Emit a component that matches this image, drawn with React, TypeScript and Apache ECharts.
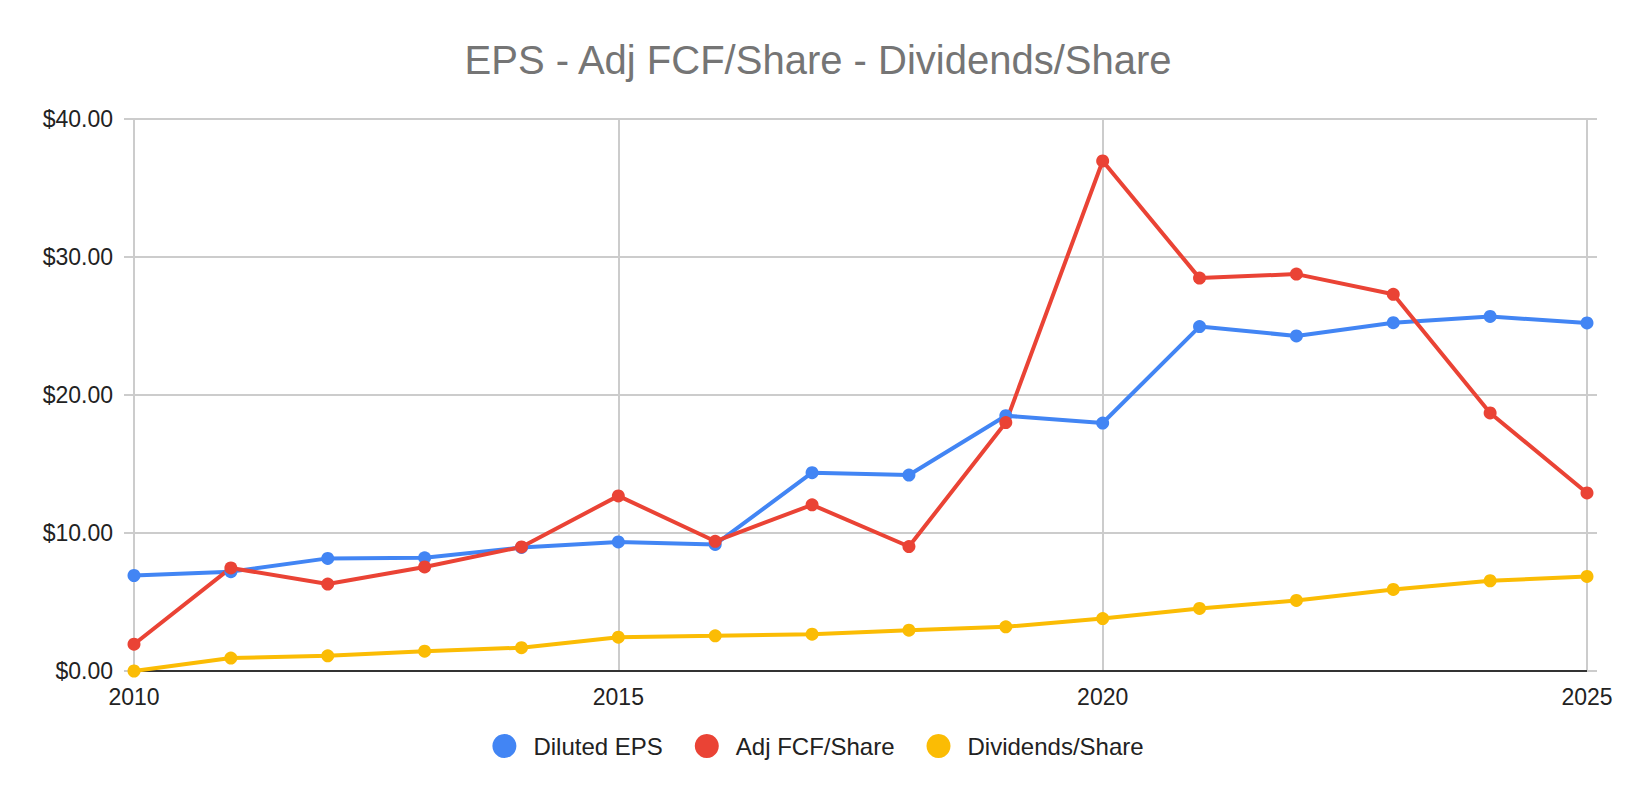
import { useEffect, useRef } from 'react';
import * as echarts from 'echarts';

const years = [2010, 2011, 2012, 2013, 2014, 2015, 2016, 2017, 2018, 2019, 2020, 2021, 2022, 2023, 2024, 2025];
const dilutedEps = [6.92, 7.2, 8.16, 8.2, 8.95, 9.35, 9.17, 14.37, 14.2, 18.5, 17.97, 24.96, 24.28, 25.24, 25.69, 25.22];
const adjFcfShare = [1.94, 7.47, 6.3, 7.54, 8.99, 12.69, 9.4, 12.04, 9.02, 18.0, 36.96, 28.47, 28.76, 27.3, 18.7, 12.9];
const dividendsShare = [0, 0.94, 1.1, 1.44, 1.69, 2.45, 2.55, 2.67, 2.96, 3.2, 3.8, 4.53, 5.11, 5.91, 6.54, 6.85];

const FONT = '"Liberation Sans", Arial, sans-serif';
const GRID_COLOR = '#cccccc';

function App() {
  const divEL = useRef<HTMLDivElement>(null);

  useEffect(() => {
    const instance = echarts.init(divEL.current as any, null, { renderer: 'svg' });

    const pairs = (vals: number[]) => years.map((y, i) => [y, vals[i]]);
    const lineSeries = (name: string, color: string, vals: number[]) => ({
      name,
      type: 'line',
      data: pairs(vals),
      symbol: 'circle',
      symbolSize: 13,
      itemStyle: { color },
      lineStyle: { color, width: 4 },
    });

    const option: any = {
      animation: false,
      backgroundColor: '#ffffff',
      textStyle: { fontFamily: FONT },
      title: {
        text: 'EPS - Adj FCF/Share - Dividends/Share',
        left: 'center',
        top: 40,
        padding: 0,
        textStyle: { fontFamily: FONT, fontSize: 40, fontWeight: 'normal', color: '#757575' },
      },
      legend: {
        bottom: 35,
        left: 'center',
        icon: 'circle',
        itemWidth: 24,
        itemHeight: 24,
        itemGap: 32,
        textStyle: { fontFamily: FONT, fontSize: 24, color: '#222222', padding: [0, 0, 0, 12] },
        data: ['Diluted EPS', 'Adj FCF/Share', 'Dividends/Share'],
      },
      grid: { left: 134, right: 49, top: 119, bottom: 127, containLabel: false },
      xAxis: {
        type: 'value',
        min: 2010,
        max: 2025,
        interval: 5,
        axisLine: { onZero: true, lineStyle: { color: '#333333', width: 2 } },
        axisTick: { show: false },
        axisLabel: {
          margin: 14,
          fontFamily: FONT,
          fontSize: 23,
          color: '#222222',
          formatter: (v: number) => String(v),
        },
        splitLine: { show: true, lineStyle: { color: GRID_COLOR, width: 2 } },
      },
      yAxis: [
        {
          type: 'value',
          min: 0,
          max: 40,
          interval: 10,
          axisLine: { show: false },
          axisTick: { show: true, length: 10, lineStyle: { color: GRID_COLOR, width: 2 } },
          axisLabel: {
            margin: 21,
            fontFamily: FONT,
            fontSize: 23,
            color: '#222222',
            formatter: (v: number) => '$' + v.toFixed(2),
          },
          splitLine: { show: true, lineStyle: { color: GRID_COLOR, width: 2 } },
        },
        {
          type: 'value',
          position: 'right',
          min: 0,
          max: 40,
          interval: 10,
          axisLine: { show: false },
          axisTick: { show: true, length: 10, lineStyle: { color: GRID_COLOR, width: 2 } },
          axisLabel: { show: false },
          splitLine: { show: false },
        },
      ],
      series: [
        lineSeries('Diluted EPS', '#4285F4', dilutedEps),
        lineSeries('Adj FCF/Share', '#EA4335', adjFcfShare),
        lineSeries('Dividends/Share', '#FBBC04', dividendsShare),
      ],
    };

    instance.setOption(option);

    return () => {
      instance.dispose();
    };
  }, []);

  return (
    <div
      ref={divEL}
      style={{ position: 'absolute', left: 0, top: 0, width: '1636px', height: '798px' }}
    ></div>
  );
}

export default App;
